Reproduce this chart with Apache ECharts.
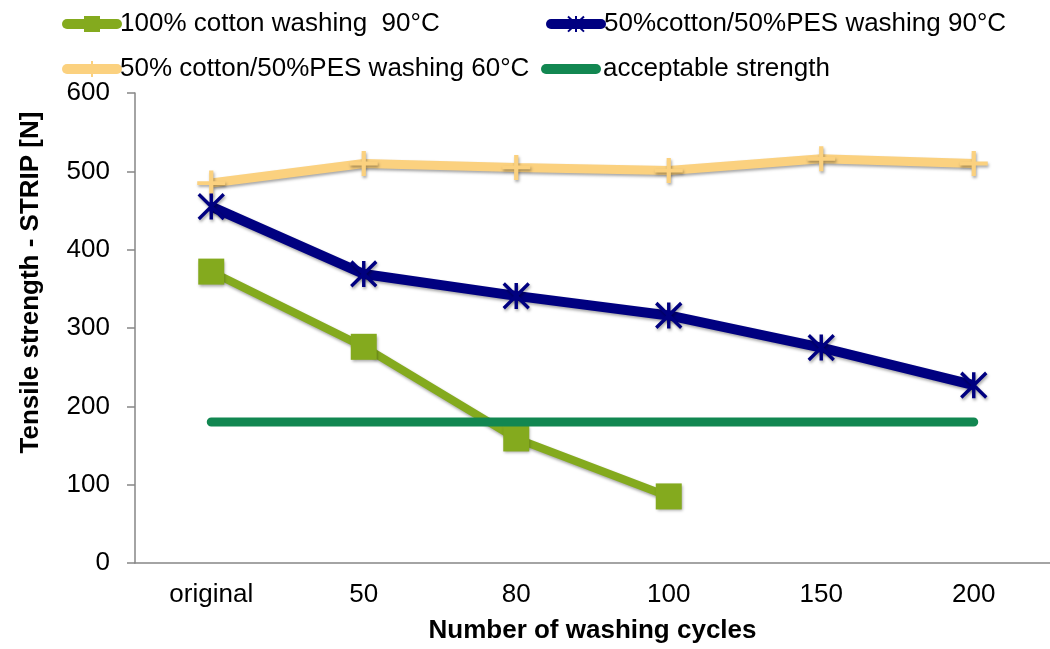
<!DOCTYPE html>
<html>
<head>
<meta charset="utf-8">
<script src="https://cdn.jsdelivr.net/npm/echarts@6/dist/echarts.min.js"></script>
<style>html,body{margin:0;padding:0;background:#fff}#c{width:1050px;height:649px}</style>
</head>
<body>
<div id="c"></div>
<script>
const categories = ['original', '50', '80', '100', '150', '200'];
const cotton90 = [372, 276, 159, 85, null, null];
const blend90 = [455, 369, 341, 316, 275, 227];
const blend60 = [485, 510, 505, 501, 516, 510];
const acceptable = [180, 180, 180, 180, 180, 180];
const seriesNames = ['100% cotton washing  90°C', '50%cotton/50%PES washing 90°C', '50% cotton/50%PES washing 60°C', 'acceptable strength'];
const yTicks = [0, 100, 200, 300, 400, 500, 600];

const asterisk = 'path://M10 0 L10 20 M0.5 0.5 L19.5 19.5 M0.5 19.5 L19.5 0.5';
const plus = 'path://M0 12 L28 12 M14 0 L14 24';
const pill = 'path://M5 0 L55 0 A5 5 0 0 1 55 10 L5 10 A5 5 0 0 1 5 0 Z';
const font = 'Liberation Sans, Arial, sans-serif';
const shadow = {shadowBlur: 3, shadowOffsetY: 2, shadowOffsetX: 1, shadowColor: 'rgba(0,0,0,0.35)'};
const FS = 26;

function legend(name, left, top, lw) {
  return {
    data: [name], left: left, top: top, itemWidth: 50, itemHeight: 20, itemGap: 0, padding: 0,
    lineStyle: {width: lw, cap: 'round'},
    textStyle: {fontSize: FS, color: '#000', fontFamily: font, padding: [0, 0, 0, -2]},
    selectedMode: false
  };
}

const chart = echarts.init(document.getElementById('c'));
chart.setOption({
  animation: false,
  backgroundColor: '#fff',
  legend: [
    legend(seriesNames[0], 62, 11, 10),
    legend(seriesNames[1], 546, 11, 10),
    legend(seriesNames[2], 62, 56, 10),
    {
      data: [{name: seriesNames[3], icon: pill}], left: 541, top: 56, itemWidth: 60, itemHeight: 10,
      itemGap: 0, padding: 0, selectedMode: false,
      textStyle: {fontSize: FS, color: '#000', fontFamily: font, padding: [0, 0, 0, -3]}
    }
  ],
  grid: {left: 135, right: 0, top: 93, bottom: 84},
  xAxis: {
    type: 'category', data: categories, boundaryGap: true,
    axisLine: {lineStyle: {color: '#868686', width: 1.5}},
    axisTick: {show: false},
    axisLabel: {fontSize: FS, color: '#000', fontFamily: font, margin: 19},
    name: 'Number of washing cycles', nameLocation: 'middle', nameGap: 55,
    nameTextStyle: {fontSize: FS, fontWeight: 'bold', color: '#000', fontFamily: font}
  },
  yAxis: {
    type: 'value', min: yTicks[0], max: yTicks[yTicks.length - 1], interval: 100,
    axisLine: {show: true, lineStyle: {color: '#868686', width: 1.5}},
    axisTick: {show: true, length: 8, lineStyle: {color: '#868686', width: 1.5}},
    splitLine: {show: false},
    axisLabel: {fontSize: FS, color: '#000', fontFamily: font, margin: 25},
    name: 'Tensile strength - STRIP [N]', nameLocation: 'middle', nameGap: 91,
    nameTextStyle: {fontSize: FS, fontWeight: 'bold', color: '#000', fontFamily: font, padding: [0, 0, 0, 91]}
  },
  series: [
    {
      name: seriesNames[2], type: 'line', data: blend60, z: 2,
      symbol: plus, symbolSize: [28, 25],
      lineStyle: Object.assign({color: '#FBD17F', width: 9}, shadow),
      itemStyle: Object.assign({color: 'none', borderColor: '#FBD17F', borderWidth: 4}, shadow)
    },
    {
      name: seriesNames[1], type: 'line', data: blend90, z: 3,
      symbol: asterisk, symbolSize: [25, 26],
      lineStyle: Object.assign({color: '#000080', width: 10}, shadow),
      itemStyle: Object.assign({color: 'none', borderColor: '#000080', borderWidth: 3.5}, shadow)
    },
    {
      name: seriesNames[0], type: 'line', data: cotton90, z: 4,
      symbol: 'rect', symbolSize: 26,
      lineStyle: Object.assign({color: '#84AA1E', width: 8}, shadow),
      itemStyle: Object.assign({color: '#84AA1E', borderRadius: 2}, shadow)
    },
    {
      name: seriesNames[3], type: 'line', data: acceptable, z: 5,
      symbol: 'none',
      lineStyle: {color: '#128751', width: 9, cap: 'round'},
      itemStyle: {color: '#128751'}
    }
  ]
});
</script>
</body>
</html>
